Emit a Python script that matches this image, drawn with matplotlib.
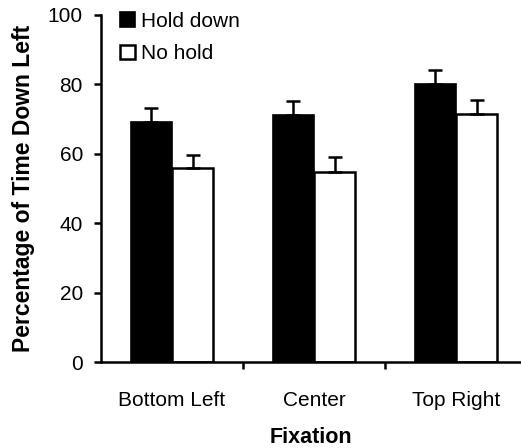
import numpy as np
import matplotlib.pyplot as plt
from matplotlib.patches import Patch

plt.rcParams['font.family'] = ['Liberation Sans', 'DejaVu Sans']

fixations = ["Bottom Left", "Center", "Top Right"]
hold_down = [69.2, 71.2, 80.1]
hold_down_err = [4.0, 4.0, 4.0]
no_hold = [55.9, 54.8, 71.5]
no_hold_err = [3.8, 4.3, 4.0]

fig = plt.figure(figsize=(5.21, 4.48), dpi=100)
ax = fig.add_axes([101 / 521, 86 / 448, 419 / 521, 347 / 448])

x = np.arange(len(fixations))
w = 0.29
zeros = [0, 0, 0]
ax.bar(x - w / 2, hold_down, w, color='black', edgecolor='black', linewidth=1.2,
       yerr=[zeros, hold_down_err], error_kw=dict(ecolor='black', elinewidth=1.8, capsize=5, capthick=1.8))
ax.bar(x + w / 2, no_hold, w, color='white', edgecolor='black', linewidth=1.8,
       yerr=[zeros, no_hold_err], error_kw=dict(ecolor='black', elinewidth=1.8, capsize=5, capthick=1.8))

ax.set_xlim(-0.5, 2.45)
ax.set_ylim(0, 100)
ax.set_yticks([0, 20, 40, 60, 80, 100])
ax.set_xticks(x)
ax.set_xticklabels(fixations)
ax.set_xticks([0.5, 1.5], minor=True)

for s in ['top', 'right']:
    ax.spines[s].set_visible(False)
for s in ['left', 'bottom']:
    ax.spines[s].set_linewidth(1.8)

ax.tick_params(axis='y', direction='out', length=5, width=1.8, labelsize=15, pad=8)
ax.tick_params(axis='x', which='major', length=0, labelsize=15, pad=21)
ax.tick_params(axis='x', which='minor', direction='out', length=5, width=1.8)

ax.set_ylabel("Percentage of Time Down Left", fontsize=16.5, fontweight='bold', labelpad=9)
ax.set_xlabel("Fixation", fontsize=15.5, fontweight='bold', labelpad=12)

handles = [Patch(facecolor='black', edgecolor='black', linewidth=1.2),
           Patch(facecolor='white', edgecolor='black', linewidth=1.8)]
ax.legend(handles, ["Hold down", "No hold"], loc='upper left', bbox_to_anchor=(0.026, 1.033),
          frameon=False, fontsize=15, handlelength=0.7, handleheight=0.7,
          handletextpad=0.3, labelspacing=0.65, borderaxespad=0)

fig.savefig("out.png", dpi=100)
